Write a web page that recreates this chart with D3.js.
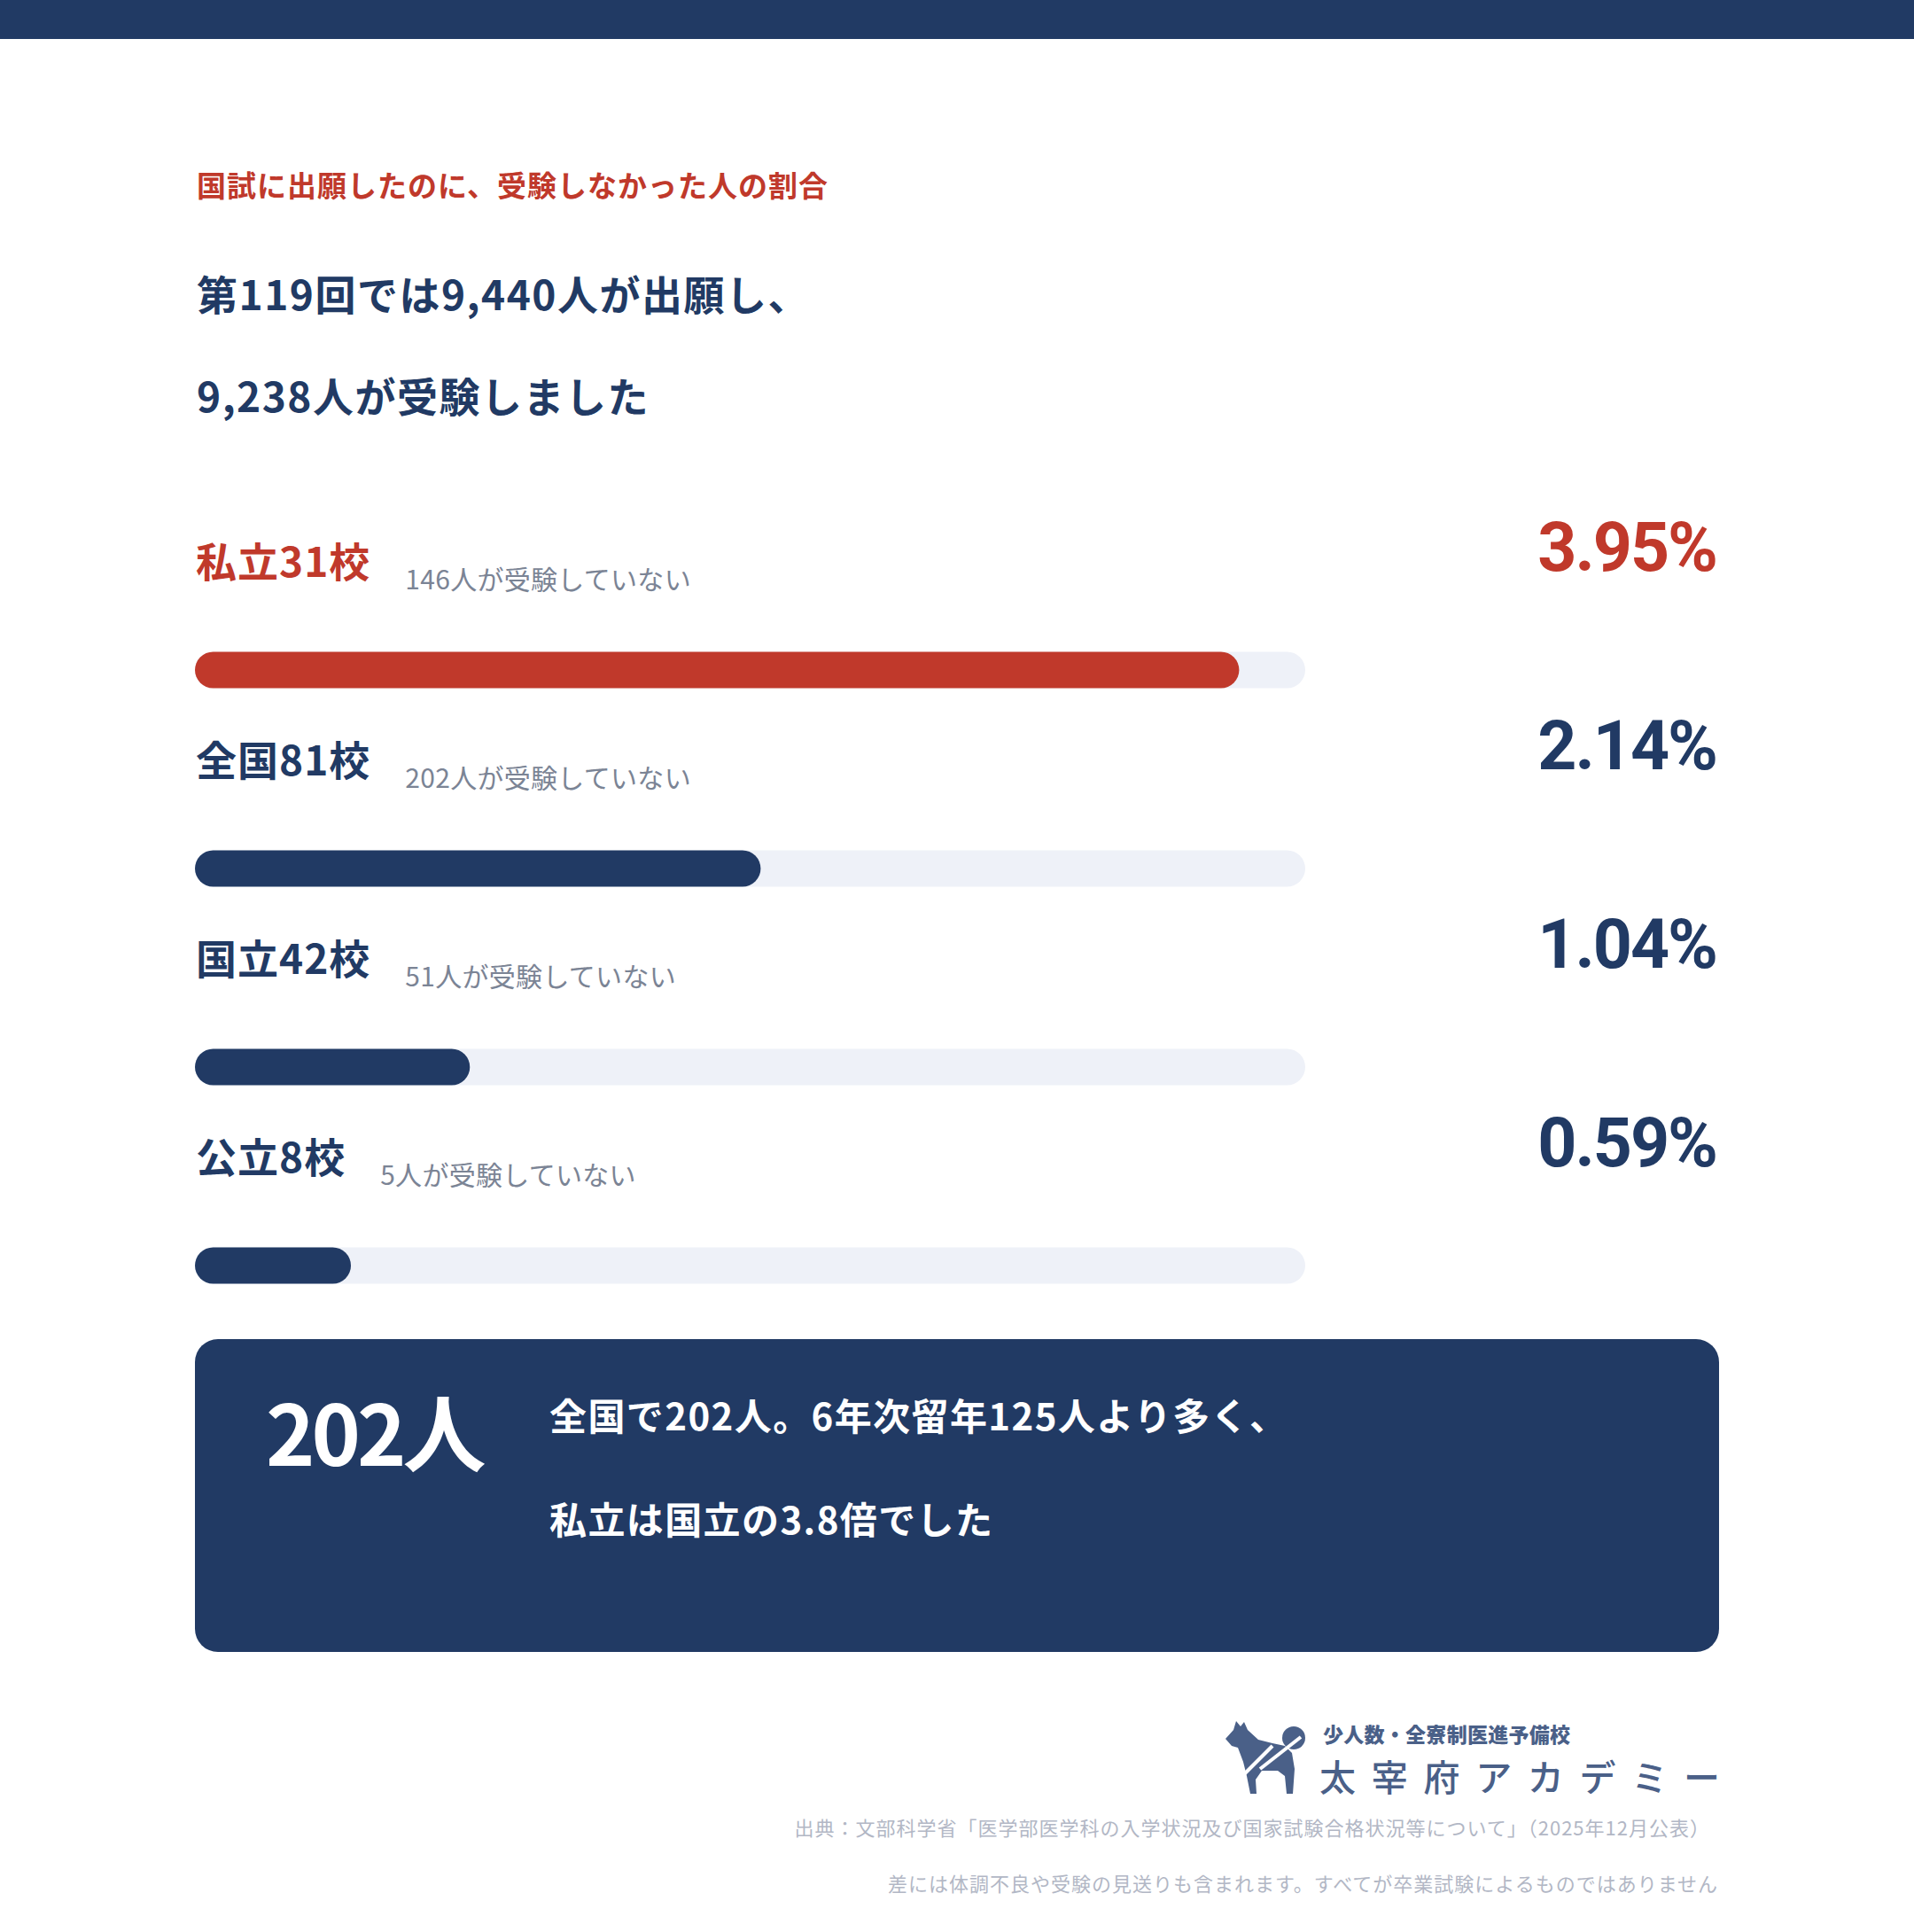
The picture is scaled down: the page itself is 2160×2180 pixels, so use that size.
<!DOCTYPE html>
<html>
<head>
<meta charset="utf-8">
<script src="https://cdn.jsdelivr.net/npm/d3@7"></script>
<style>
  html, body { margin: 0; padding: 0; background: #fff; }
  svg { display: block; }
  .jp { font-family: "Noto Sans CJK JP", "Noto Sans", sans-serif; }
  .num { font-family: Roboto, "Liberation Sans", sans-serif; }
</style>
</head>
<body>
<div id="chart"></div>
<script>
// data
const groups = ['私立31校', '全国81校', '国立42校', '公立8校'];
const absent = [146, 202, 51, 5];
const rates = [3.95, 2.14, 1.04, 0.59];
const highlight = ['私立31校'];

const kicker = '国試に出願したのに、受験しなかった人の割合';
const headline = ['第119回では9,440人が出願し、', '9,238人が受験しました'];
const calloutNumber = '202人';
const calloutLines = ['全国で202人。6年次留年125人より多く、', '私立は国立の3.8倍でした'];
const sourceNote = '出典：文部科学省「医学部医学科の入学状況及び国家試験合格状況等について」（2025年12月公表）';
const footNote = '差には体調不良や受験の見送りも含まれます。すべてが卒業試験によるものではありません';

const W = 2160, H = 2180;
const navy = '#213a64', red = '#c0392b', track = '#eef1f8';
const left = 220;

var svg = d3.select('#chart')
  .append('svg')
  .attr('width', W)
  .attr('height', H)
  .attr('viewBox', '0 0 ' + W + ' ' + H);

svg.append('rect')
  .attr('x', 0).attr('y', 0)
  .attr('width', W).attr('height', 44)
  .style('fill', navy);

// header
svg.append('text')
  .attr('class', 'jp')
  .attr('x', left + 2).attr('y', 222)
  .attr('font-size', 33).attr('font-weight', 700)
  .attr('letter-spacing', 1)
  .attr('fill', red)
  .text(kicker);

svg.selectAll('.headline')
  .data(headline)
  .enter().append('text')
  .attr('class', 'jp headline')
  .attr('x', left + 2)
  .attr('y', (d, i) => 350 + i * 115)
  .attr('font-size', 46).attr('font-weight', 700)
  .attr('letter-spacing', 1.5)
  .attr('fill', navy)
  .text(d => d);

// bars
var barWidth = 1253, barH = 41;

var xScale = d3.scaleLinear()
  .domain([0, 4.2])
  .range([0, barWidth]);

var yScale = d3.scaleBand()
  .domain(groups)
  .range([735.5, 735.5 + 224 * groups.length])
  .paddingInner(0)
  .paddingOuter(0);

var rows = svg.selectAll('.row')
  .data(groups)
  .enter().append('g')
  .attr('class', 'row')
  .attr('transform', d => 'translate(' + left + ',' + yScale(d) + ')');

var colorOf = d => highlight.indexOf(d) >= 0 ? red : navy;

rows.append('rect')
  .attr('x', 0).attr('y', 0)
  .attr('width', barWidth).attr('height', barH)
  .attr('rx', barH / 2)
  .style('fill', track);

rows.append('rect')
  .attr('x', 0).attr('y', 0)
  .attr('width', (d, i) => xScale(rates[i]))
  .attr('height', barH)
  .attr('rx', barH / 2)
  .style('fill', colorOf);

var labels = rows.append('text')
  .attr('class', 'jp')
  .attr('x', 1).attr('y', -85)
  .attr('font-size', 46).attr('font-weight', 700)
  .attr('letter-spacing', 1)
  .attr('fill', colorOf)
  .text(d => d);

rows.append('text')
  .attr('class', 'jp')
  .attr('x', function(d, i) { return labels.nodes()[i].getComputedTextLength() + 40; })
  .attr('y', -71)
  .attr('font-size', 30).attr('font-weight', 400)
  .attr('letter-spacing', 0.3)
  .attr('fill', '#7b8495')
  .text((d, i) => absent[i] + '人が受験していない');

rows.append('text')
  .attr('class', 'num')
  .attr('x', 1937 - left).attr('y', -92)
  .attr('text-anchor', 'end')
  .attr('font-size', 77).attr('font-weight', 700)
  .attr('letter-spacing', -2)
  .attr('fill', colorOf)
  .text((d, i) => rates[i].toFixed(2) + '%');

// callout box
svg.append('rect')
  .attr('x', left).attr('y', 1511)
  .attr('width', 1720).attr('height', 353)
  .attr('rx', 26)
  .style('fill', navy);

svg.append('text')
  .attr('class', 'jp')
  .attr('x', 300).attr('y', 1654)
  .attr('font-size', 94).attr('font-weight', 700)
  .attr('letter-spacing', -4)
  .attr('fill', '#fff')
  .text(calloutNumber);

svg.selectAll('.callout-line')
  .data(calloutLines)
  .enter().append('text')
  .attr('class', 'jp callout-line')
  .attr('x', 620)
  .attr('y', (d, i) => 1614 + i * 117)
  .attr('font-size', 42).attr('font-weight', 700)
  .attr('letter-spacing', 1.4)
  .attr('fill', '#fff')
  .text(d => d);

// logo
var logo = svg.append('g')
  .attr('transform', 'translate(1370,1930)')
  .style('fill', '#4a6088');

logo.append('path')
  .attr('d', 'M13,32 L22,22 L25,12 L30,18 L34,13 L38,22 L50,33 L66,37 L80,40 L88,48 L91,66 L89,94 L82,94 L80,74 L72,68 L54,68 L47,78 L48,94 L41,94 L37,74 L33,58 L27,42 L20,40 Z');
logo.append('circle')
  .attr('cx', 90).attr('cy', 31).attr('r', 13);
logo.append('line')
  .attr('x1', 34).attr('y1', 72).attr('x2', 66).attr('y2', 40)
  .style('stroke', '#fff').style('stroke-width', 4);
logo.append('line')
  .attr('x1', 52).attr('y1', 66).attr('x2', 98).attr('y2', 30)
  .style('stroke', '#fff').style('stroke-width', 4);

svg.append('text')
  .attr('class', 'jp')
  .attr('x', 1493).attr('y', 1966)
  .attr('font-size', 23).attr('font-weight', 900)
  .attr('textLength', 279).attr('lengthAdjust', 'spacing')
  .attr('fill', '#4a6088')
  .text('少人数・全寮制医進予備校');

svg.append('text')
  .attr('class', 'jp')
  .attr('x', 1489).attr('y', 2021)
  .attr('font-size', 41).attr('font-weight', 500)
  .attr('textLength', 452).attr('lengthAdjust', 'spacing')
  .attr('fill', '#4a6088')
  .text('太宰府アカデミー');

// source notes
svg.append('text')
  .attr('class', 'jp')
  .attr('x', 1930).attr('y', 2071)
  .attr('text-anchor', 'end')
  .attr('font-size', 22).attr('font-weight', 400)
  .attr('letter-spacing', 1)
  .attr('fill', '#b2b7c5')
  .text(sourceNote);

svg.append('text')
  .attr('class', 'jp')
  .attr('x', 1939).attr('y', 2134)
  .attr('text-anchor', 'end')
  .attr('font-size', 22).attr('font-weight', 400)
  .attr('letter-spacing', 1)
  .attr('fill', '#b2b7c5')
  .text(footNote);
</script>
</body>
</html>
